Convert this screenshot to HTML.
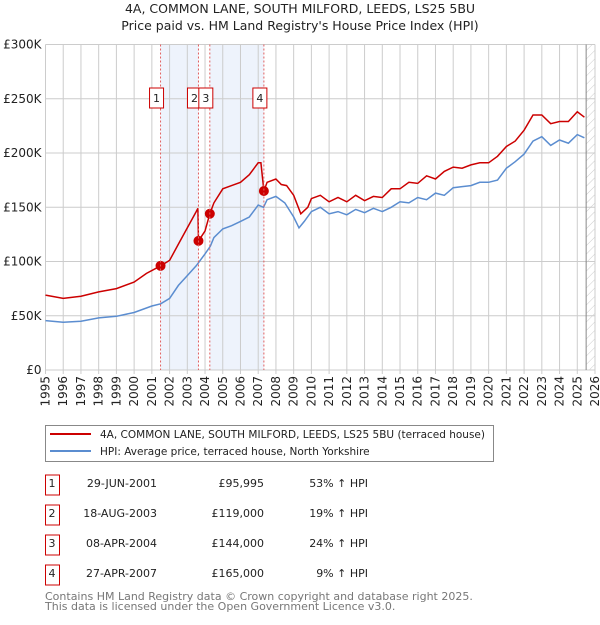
<!DOCTYPE html>
<html><head><meta charset="utf-8">
<style>
body{margin:0;background:#fff;font-family:"Liberation Sans","DejaVu Sans",sans-serif;}
svg text{font-family:"DejaVu Sans","Liberation Sans",sans-serif;}
</style></head>
<body>
<svg id="c" width="600" height="620" xmlns="http://www.w3.org/2000/svg">
<defs><pattern id="hatch" width="6" height="6" patternUnits="userSpaceOnUse" patternTransform="rotate(45)"><line x1="0" y1="0" x2="0" y2="6" stroke="#ccc" stroke-width="1"/></pattern></defs>
<text x="300" y="13" text-anchor="middle" font-size="12.5" fill="#222">4A, COMMON LANE, SOUTH MILFORD, LEEDS, LS25 5BU</text>
<text x="300" y="30" text-anchor="middle" font-size="12.5" fill="#222">Price paid vs. HM Land Registry's House Price Index (HPI)</text>
<g id="bands"></g><g id="grid"></g><g id="series"></g><g id="marks"></g>
<g>
<rect x="45.5" y="425.5" width="448" height="36" fill="#fff" stroke="#888"/>
<line x1="50" y1="434" x2="91" y2="434" stroke="#cc0000" stroke-width="2"/>
<text x="100" y="438" font-size="10.5" fill="#222">4A, COMMON LANE, SOUTH MILFORD, LEEDS, LS25 5BU (terraced house)</text>
<line x1="50" y1="451" x2="91" y2="451" stroke="#5b8dd0" stroke-width="2"/>
<text x="100" y="455" font-size="10.5" fill="#222">HPI: Average price, terraced house, North Yorkshire</text>
</g>
<g id="table" font-size="11" fill="#222"></g>
<text x="45" y="600" font-size="11" fill="#777">Contains HM Land Registry data © Crown copyright and database right 2025.</text>
<text x="45" y="610" font-size="11" fill="#777">This data is licensed under the Open Government Licence v3.0.</text>
</svg>
<script>
const hpiYears=[1995,1996,1997,1998,1999,2000,2001,2001.5,2002,2002.5,2003,2003.5,2004,2004.3,2004.5,2005,2005.5,2006,2006.5,2007,2007.3,2007.5,2008,2008.5,2009,2009.3,2009.6,2010,2010.5,2011,2011.5,2012,2012.5,2013,2013.5,2014,2014.5,2015,2015.5,2016,2016.5,2017,2017.5,2018,2018.5,2019,2019.5,2020,2020.5,2021,2021.5,2022,2022.5,2023,2023.5,2024,2024.5,2025,2025.4];
const hpiValues=[45.5,44,45,48,49.5,53,59,61,66,78,87,96,107,114,122,130,133,137,141,152,150,157,160,154,141,131,137,146,150,144,146,143,148,145,149,146,150,155,154,159,157,163,161,168,169,170,173,173,175,186,192,199,211,215,207,212,209,217,214];
const propYears=[1995,1996,1997,1998,1999,2000,2000.7,2001.5,2002,2002.5,2003,2003.5,2003.6,2003.63,2004,2004.27,2004.5,2005,2005.5,2006,2006.5,2007,2007.15,2007.32,2007.5,2008,2008.3,2008.6,2009,2009.4,2009.8,2010,2010.5,2011,2011.5,2012,2012.5,2013,2013.5,2014,2014.5,2015,2015.5,2016,2016.5,2017,2017.5,2018,2018.5,2019,2019.5,2020,2020.5,2021,2021.5,2022,2022.5,2023,2023.5,2024,2024.5,2025,2025.4];
const propValues=[69,66,68,72,75,81,89,96,101,116,131,146,149,119,128,144,154,167,170,173,180,191,191,165,173,176,171,170,161,144,150,158,161,155,159,155,161,156,160,159,167,167,173,172,179,176,183,187,186,189,191,191,197,206,211,221,235,235,227,229,229,238,233];
const saleLabels=["1","2","3","4"];
const saleYears=[2001.49,2003.63,2004.27,2007.32];
const salePrices=[95.995,119,144,165];
const saleDates=["29-JUN-2001","18-AUG-2003","08-APR-2004","27-APR-2007"];
const salePriceText=["£95,995","£119,000","£144,000","£165,000"];
const saleHpiText=["53% ↑ HPI","19% ↑ HPI","24% ↑ HPI","9% ↑ HPI"];
const yTicks=[0,50,100,150,200,250,300];
const yTickLabels=["£0","£50K","£100K","£150K","£200K","£250K","£300K"];
const xTicks=[];for(let y=1995;y<=2026;y++)xTicks.push(y);

const NS="http://www.w3.org/2000/svg";
const X0=45.5,X1=595,Y0=370,Y1=44.5;
const xs=y=>X0+(y-1995)/(2026-1995)*(X1-X0);
const ys=v=>Y0-v/300*(Y0-Y1);
function el(t,a,p){const e=document.createElementNS(NS,t);for(const k in a)e.setAttribute(k,a[k]);document.getElementById(p).appendChild(e);return e;}

let b=el('rect',{x:xs(saleYears[0]),y:Y1,width:xs(saleYears[1])-xs(saleYears[0]),height:Y0-Y1,fill:'#eef3fc'},'bands');


b=el('rect',{x:xs(saleYears[2]),y:Y1,width:xs(saleYears[3])-xs(saleYears[2]),height:Y0-Y1,fill:'#eef3fc'},'bands');


b=el('rect',{x:xs(2025.5),y:Y1,width:X1-xs(2025.5),height:Y0-Y1,fill:'url(#hatch)'},'bands');


xTicks.forEach(t=>{
 const l=el('line',{x1:xs(t),x2:xs(t),y1:Y1,y2:Y0+4,stroke:'#ccc','stroke-width':1},'grid');
 
 
 const tx=el('text',{x:0,y:0,'font-size':12,fill:'#222','text-anchor':'end',transform:`translate(${xs(t)+4},${Y0+6}) rotate(-90)`},'grid');
 tx.textContent=t;
 
 
});
yTicks.forEach((t,i)=>{
 const l=el('line',{x1:X0,x2:X1,y1:ys(t),y2:ys(t),stroke:'#ccc','stroke-width':1},'grid');
 
 
 const tx=el('text',{x:X0-4,y:ys(t)+4,'font-size':12,fill:'#222','text-anchor':'end'},'grid');
 tx.textContent=yTickLabels[i];
 
 
});
el('line',{x1:xs(2025.5),x2:xs(2025.5),y1:Y1,y2:Y0,stroke:'#888','stroke-width':1},'grid');
saleYears.forEach((s,i)=>{
 const l=el('line',{x1:xs(s),x2:xs(s),y1:Y1,y2:Y0,stroke:'#e06060','stroke-width':1,'stroke-dasharray':'2,2'},'marks');
 
 
 const bx=xs(s)-4;
 const r=el('rect',{x:bx-7,y:88,width:14,height:20,fill:'#fff',stroke:'#cc0000','stroke-width':1},'marks');
 
 
 const t=el('text',{x:bx,y:102,'font-size':11,'text-anchor':'middle',fill:'#222'},'marks');
 t.textContent=saleLabels[i];
 
 
});
function path(xa,va){return xa.map((x,i)=>(i?'L':'M')+xs(x).toFixed(1)+','+ys(va[i]).toFixed(1)).join('');}
let p=el('path',{d:path(hpiYears,hpiValues),fill:'none',stroke:'#5b8dd0','stroke-width':1.5},'series');


p=el('path',{d:path(propYears,propValues),fill:'none',stroke:'#cc0000','stroke-width':1.5},'series');


saleYears.forEach((s,i)=>{
 const c=el('circle',{cx:xs(s),cy:ys(salePrices[i]),r:5,fill:'#cc0000'},'series');
 
 
});
saleLabels.forEach((lab,i)=>{
 const y=483+30*i;
 const r=el('rect',{x:45.5,y:y-8,width:14,height:20,fill:'#fff',stroke:'#cc0000'},'table');
 
 
 const cells=[[52,lab,'middle'],[157,saleDates[i],'end'],[264,salePriceText[i],'end'],[368,saleHpiText[i],'end']];
 cells.forEach(([x,txt,a],j)=>{
  const t=el('text',{x:x,y:y+4,'text-anchor':a,'font-size':11,fill:'#222'},'table');
  t.textContent=txt;
  
  
 });
});
</script>
</body></html>
